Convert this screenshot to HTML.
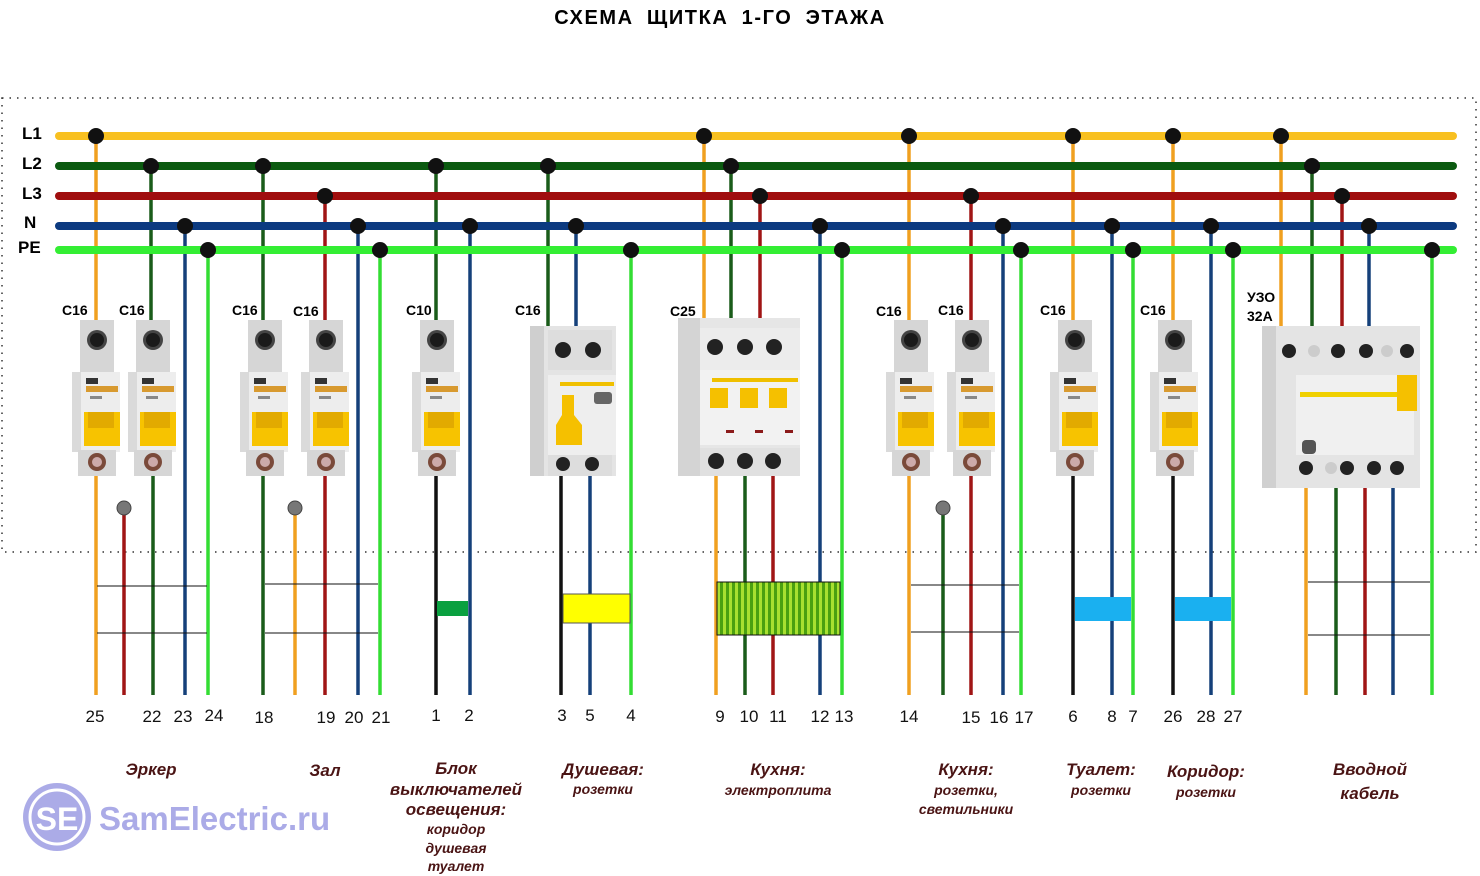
<!DOCTYPE html>
<html><head><meta charset="utf-8"><style>
html,body{margin:0;padding:0;background:#fff;}
svg{display:block;}
.t{font-family:"Liberation Sans",sans-serif;}
</style></head><body>
<svg width="1480" height="876" viewBox="0 0 1480 876" xmlns="http://www.w3.org/2000/svg">
<defs>
<g id="br">
<rect x="8" y="0" width="34" height="54" fill="#d6d6d6"/>
<circle cx="25" cy="20" r="10" fill="#444"/><circle cx="25" cy="20" r="7" fill="#1a1a1a"/>
<rect x="0" y="52" width="48" height="80" fill="#ededed"/>
<rect x="0" y="52" width="9" height="80" fill="#dadada"/>
<rect x="14" y="58" width="12" height="6" fill="#333"/>
<rect x="14" y="66" width="32" height="6" fill="#d89a30"/>
<rect x="18" y="76" width="12" height="3" fill="#888"/>
<rect x="12" y="92" width="36" height="34" fill="#f7c300"/>
<rect x="16" y="92" width="26" height="16" fill="#e2aa00"/>
<rect x="6" y="130" width="38" height="26" fill="#d6d6d6"/>
<circle cx="25" cy="142" r="9" fill="#7a4a3a"/><circle cx="25" cy="142" r="5" fill="#caa"/>
</g>
</defs>

<text x="720" y="24" text-anchor="middle" class="t" font-size="20" font-weight="bold" letter-spacing="1.6" word-spacing="6">СХЕМА  ЩИТКА  1-ГО  ЭТАЖА</text>

<path d="M2 98 H1476 V552 H2 Z" fill="none" stroke="#333" stroke-width="1.5" stroke-dasharray="1.5 6"/>

<g class="t" font-size="17" font-weight="bold">
<text x="22" y="139">L1</text><text x="22" y="169">L2</text><text x="22" y="199">L3</text>
<text x="24" y="228">N</text><text x="18" y="253">PE</text>
</g>

<g stroke-width="3.5" fill="none">
<path d="M96 136V695" stroke="#f0a020"/>
<path d="M151 166V330 M153 470V695" stroke="#1a5c1a"/>
<path d="M185 226V695" stroke="#15407a"/>
<path d="M208 250V695" stroke="#33dd33"/>
<path d="M124 508V695" stroke="#a01515"/>
<path d="M263 166V695" stroke="#1a5c1a"/>
<path d="M325 196V695" stroke="#a01515"/>
<path d="M358 226V695" stroke="#15407a"/>
<path d="M380 250V695" stroke="#33dd33"/>
<path d="M295 508V695" stroke="#f0a020"/>
<path d="M436 166V330" stroke="#1a5c1a"/>
<path d="M436 470V695" stroke="#111"/>
<path d="M470 226V695" stroke="#15407a"/>
<path d="M548 166V330" stroke="#1a5c1a"/>
<path d="M576 226V330" stroke="#15407a"/>
<path d="M561 470V695" stroke="#111"/>
<path d="M590 470V695" stroke="#15407a"/>
<path d="M631 250V695" stroke="#33dd33"/>
<path d="M704 136V330 M716 470V695" stroke="#f0a020"/>
<path d="M731 166V330 M745 470V695" stroke="#1a5c1a"/>
<path d="M760 196V330 M773 470V695" stroke="#a01515"/>
<path d="M820 226V695" stroke="#15407a"/>
<path d="M842 250V695" stroke="#33dd33"/>
<path d="M909 136V695" stroke="#f0a020"/>
<path d="M971 196V695" stroke="#a01515"/>
<path d="M1003 226V695" stroke="#15407a"/>
<path d="M1021 250V695" stroke="#33dd33"/>
<path d="M943 508V695" stroke="#1a5c1a"/>
<path d="M1073 136V330" stroke="#f0a020"/>
<path d="M1073 470V695" stroke="#111"/>
<path d="M1112 226V695" stroke="#15407a"/>
<path d="M1133 250V695" stroke="#33dd33"/>
<path d="M1173 136V330" stroke="#f0a020"/>
<path d="M1173 470V695" stroke="#111"/>
<path d="M1211 226V695" stroke="#15407a"/>
<path d="M1233 250V695" stroke="#33dd33"/>
<path d="M1281 136V330 M1306 480V695" stroke="#f0a020"/>
<path d="M1312 166V330 M1336 480V695" stroke="#1a5c1a"/>
<path d="M1342 196V330 M1365 480V695" stroke="#a01515"/>
<path d="M1369 226V330 M1393 480V695" stroke="#15407a"/>
<path d="M1432 250V695" stroke="#33dd33"/>
</g>

<g stroke-width="8" stroke-linecap="round">
<line x1="59" y1="136" x2="1453" y2="136" stroke="#f8c020"/>
<line x1="59" y1="166" x2="1453" y2="166" stroke="#0b5a10"/>
<line x1="59" y1="196" x2="1453" y2="196" stroke="#a00e0e"/>
<line x1="59" y1="226" x2="1453" y2="226" stroke="#0c3a80"/>
<line x1="59" y1="250" x2="1453" y2="250" stroke="#33ee33"/>
</g>

<g fill="#111">
<circle cx="96" cy="136" r="8"/><circle cx="704" cy="136" r="8"/><circle cx="909" cy="136" r="8"/><circle cx="1073" cy="136" r="8"/><circle cx="1173" cy="136" r="8"/><circle cx="1281" cy="136" r="8"/>
<circle cx="151" cy="166" r="8"/><circle cx="263" cy="166" r="8"/><circle cx="436" cy="166" r="8"/><circle cx="548" cy="166" r="8"/><circle cx="731" cy="166" r="8"/><circle cx="1312" cy="166" r="8"/>
<circle cx="325" cy="196" r="8"/><circle cx="760" cy="196" r="8"/><circle cx="971" cy="196" r="8"/><circle cx="1342" cy="196" r="8"/>
<circle cx="185" cy="226" r="8"/><circle cx="358" cy="226" r="8"/><circle cx="470" cy="226" r="8"/><circle cx="576" cy="226" r="8"/><circle cx="820" cy="226" r="8"/><circle cx="1003" cy="226" r="8"/><circle cx="1112" cy="226" r="8"/><circle cx="1211" cy="226" r="8"/><circle cx="1369" cy="226" r="8"/>
<circle cx="208" cy="250" r="8"/><circle cx="380" cy="250" r="8"/><circle cx="631" cy="250" r="8"/><circle cx="842" cy="250" r="8"/><circle cx="1021" cy="250" r="8"/><circle cx="1133" cy="250" r="8"/><circle cx="1233" cy="250" r="8"/><circle cx="1432" cy="250" r="8"/>
</g>
<g fill="#777" stroke="#444" stroke-width="1">
<circle cx="124" cy="508" r="7"/><circle cx="295" cy="508" r="7"/><circle cx="943" cy="508" r="7"/>
</g>

<use href="#br" x="72" y="320"/>
<use href="#br" x="128" y="320"/>
<use href="#br" x="240" y="320"/>
<use href="#br" x="301" y="320"/>
<use href="#br" x="412" y="320"/>
<use href="#br" x="886" y="320"/>
<use href="#br" x="947" y="320"/>
<use href="#br" x="1050" y="320"/>
<use href="#br" x="1150" y="320"/>

<g>
<rect x="530" y="326" width="86" height="150" fill="#e4e4e4"/>
<rect x="530" y="326" width="14" height="150" fill="#cfcfcf"/>
<rect x="548" y="330" width="64" height="40" fill="#ddd"/>
<circle cx="563" cy="350" r="8" fill="#222"/><circle cx="593" cy="350" r="8" fill="#222"/>
<rect x="548" y="375" width="68" height="80" fill="#eee"/>
<rect x="560" y="382" width="54" height="4" fill="#f0c000"/>
<rect x="594" y="392" width="18" height="12" rx="3" fill="#666"/>
<path d="M562 395 h12 v20 l8 10 v20 h-26 v-20 l6 -10z" fill="#f5c000"/>
<rect x="548" y="455" width="64" height="21" fill="#ddd"/>
<circle cx="563" cy="464" r="7" fill="#222"/><circle cx="592" cy="464" r="7" fill="#222"/>
</g>

<g>
<rect x="678" y="318" width="122" height="158" fill="#e6e6e6"/>
<rect x="678" y="318" width="22" height="158" fill="#d4d4d4"/>
<rect x="700" y="328" width="100" height="42" fill="#ececec"/>
<circle cx="715" cy="347" r="8" fill="#222"/><circle cx="745" cy="347" r="8" fill="#222"/><circle cx="774" cy="347" r="8" fill="#222"/>
<rect x="700" y="370" width="100" height="75" fill="#f2f2f2"/>
<rect x="712" y="378" width="86" height="4" fill="#f0c000"/>
<rect x="710" y="388" width="18" height="20" fill="#f5c000"/><rect x="740" y="388" width="18" height="20" fill="#f5c000"/><rect x="769" y="388" width="18" height="20" fill="#f5c000"/>
<rect x="726" y="430" width="8" height="3" fill="#8b1a1a"/><rect x="755" y="430" width="8" height="3" fill="#8b1a1a"/><rect x="785" y="430" width="8" height="3" fill="#8b1a1a"/>
<rect x="700" y="448" width="100" height="28" fill="#e0e0e0"/>
<circle cx="716" cy="461" r="8" fill="#222"/><circle cx="745" cy="461" r="8" fill="#222"/><circle cx="773" cy="461" r="8" fill="#222"/>
</g>

<g>
<rect x="1262" y="326" width="158" height="162" fill="#e4e4e4"/>
<rect x="1262" y="326" width="14" height="162" fill="#d0d0d0"/>
<circle cx="1289" cy="351" r="7" fill="#222"/><circle cx="1314" cy="351" r="6" fill="#ccc"/><circle cx="1338" cy="351" r="7" fill="#222"/><circle cx="1366" cy="351" r="7" fill="#222"/><circle cx="1387" cy="351" r="6" fill="#ccc"/><circle cx="1407" cy="351" r="7" fill="#222"/>
<rect x="1296" y="375" width="118" height="80" fill="#f0f0f0"/>
<rect x="1300" y="392" width="100" height="5" fill="#f0d000"/>
<rect x="1397" y="375" width="20" height="36" fill="#f5c000"/>
<rect x="1302" y="440" width="14" height="14" rx="4" fill="#555"/>
<circle cx="1306" cy="468" r="7" fill="#222"/><circle cx="1331" cy="468" r="6" fill="#ccc"/><circle cx="1347" cy="468" r="7" fill="#222"/><circle cx="1374" cy="468" r="7" fill="#222"/><circle cx="1397" cy="468" r="7" fill="#222"/>
</g>

<g class="t" font-size="14" font-weight="bold">
<text x="62" y="315">C16</text><text x="119" y="315">C16</text>
<text x="232" y="315">C16</text><text x="293" y="316">C16</text>
<text x="406" y="315">C10</text><text x="515" y="315">C16</text>
<text x="670" y="316">C25</text>
<text x="876" y="316">C16</text><text x="938" y="315">C16</text>
<text x="1040" y="315">C16</text><text x="1140" y="315">C16</text>
<text x="1247" y="302">УЗО</text><text x="1247" y="321">32A</text>
</g>

<g stroke="#111" stroke-width="1">
<path d="M97 586H207M97 633H207"/>
<path d="M265 584H378M265 633H378"/>
<path d="M911 585H1019M911 632H1019"/>
<path d="M1308 582H1430M1308 635H1430"/>
</g>
<rect x="437" y="601" width="31" height="15" fill="#0aa040"/>
<rect x="563" y="594" width="67" height="29" fill="#ffff00" stroke="#555" stroke-width="1"/>
<defs><pattern id="st" width="6" height="10" patternUnits="userSpaceOnUse"><rect width="6" height="10" fill="#a8e030"/><rect width="3" height="10" fill="#4aa010"/></pattern></defs>
<rect x="717" y="582" width="123" height="53" fill="url(#st)" stroke="#111" stroke-width="1"/>
<rect x="1075" y="597" width="56" height="24" fill="#1ab0f0"/>
<rect x="1175" y="597" width="56" height="24" fill="#1ab0f0"/>

<g class="t" font-size="17" text-anchor="middle" fill="#111">
<text x="95" y="722">25</text><text x="152" y="722">22</text><text x="183" y="722">23</text><text x="214" y="721">24</text>
<text x="264" y="723">18</text><text x="326" y="723">19</text><text x="354" y="723">20</text><text x="381" y="723">21</text>
<text x="436" y="721">1</text><text x="469" y="721">2</text>
<text x="562" y="721">3</text><text x="590" y="721">5</text><text x="631" y="721">4</text>
<text x="720" y="722">9</text><text x="749" y="722">10</text><text x="778" y="722">11</text><text x="820" y="722">12</text><text x="844" y="722">13</text>
<text x="909" y="722">14</text><text x="971" y="723">15</text><text x="999" y="723">16</text><text x="1024" y="723">17</text>
<text x="1073" y="722">6</text><text x="1112" y="722">8</text><text x="1133" y="722">7</text>
<text x="1173" y="722">26</text><text x="1206" y="722">28</text><text x="1233" y="722">27</text>
</g>

<g class="t" font-weight="bold" font-style="italic" fill="#4a1414" text-anchor="middle">
<g font-size="17">
<text x="151" y="775">Эркер</text>
<text x="325" y="776">Зал</text>
<text x="456" y="774">Блок</text>
<text x="456" y="795">выключателей</text>
<text x="456" y="815">освещения:</text>
<text x="603" y="775">Душевая:</text>
<text x="778" y="775">Кухня:</text>
<text x="966" y="775">Кухня:</text>
<text x="1101" y="775">Туалет:</text>
<text x="1206" y="777">Коридор:</text>
<text x="1370" y="775">Вводной</text>
<text x="1370" y="799">кабель</text>
</g>
<g font-size="14">
<text x="456" y="834">коридор</text>
<text x="456" y="853">душевая</text>
<text x="456" y="871">туалет</text>
<text x="603" y="794">розетки</text>
<text x="778" y="795">электроплита</text>
<text x="966" y="795">розетки,</text>
<text x="966" y="814">светильники</text>
<text x="1101" y="795">розетки</text>
<text x="1206" y="797">розетки</text>
</g>
</g>

<g opacity="0.75">
<circle cx="57" cy="817" r="34" fill="#8f90e0"/>
<circle cx="57" cy="817" r="27" fill="none" stroke="#fff" stroke-width="3"/>
<text x="57" y="830" text-anchor="middle" class="t" font-size="32" font-weight="bold" fill="#fff">SE</text>
<text x="99" y="830" class="t" font-size="33" font-weight="bold" fill="#8f90e0">SamElectric.ru</text>
</g>
</svg>
</body></html>
